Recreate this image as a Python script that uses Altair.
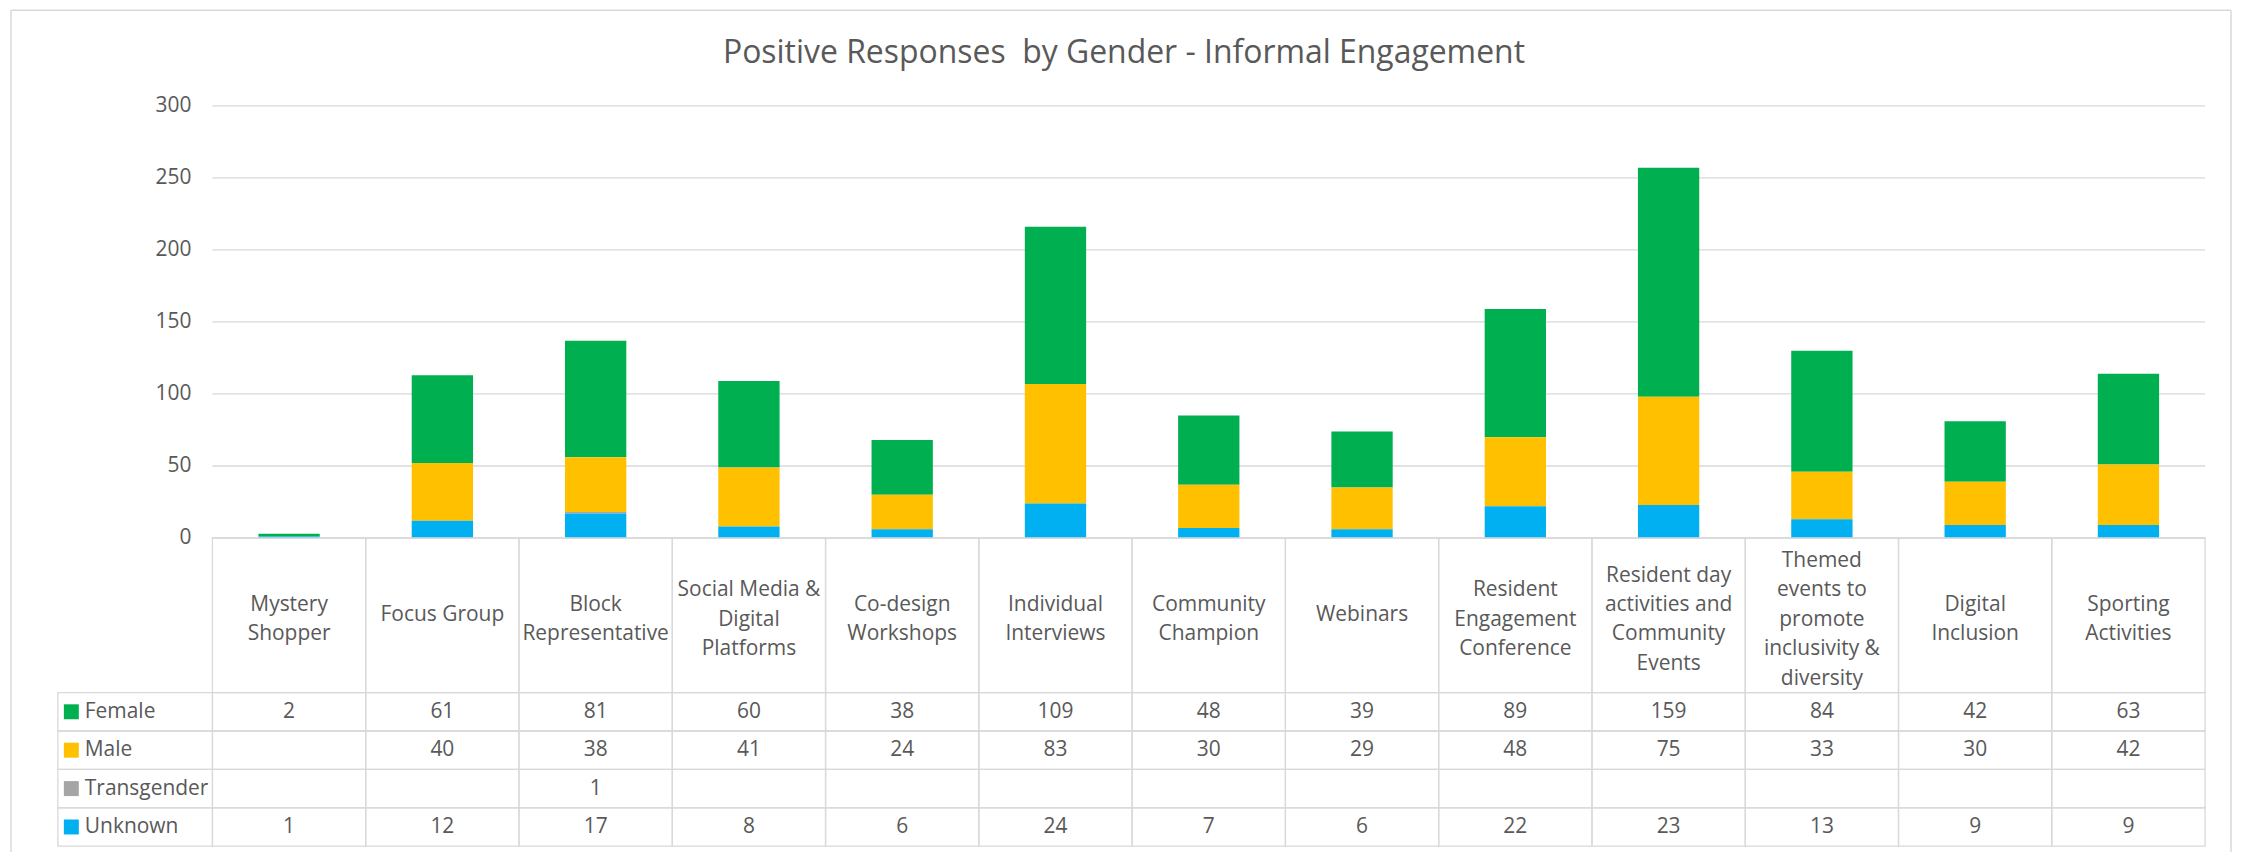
import altair as alt
import pandas as pd

# ---------------- data ----------------
categories = [
    "Mystery Shopper", "Focus Group", "Block Representative",
    "Social Media & Digital Platforms", "Co-design Workshops",
    "Individual Interviews", "Community Champion", "Webinars",
    "Resident Engagement Conference",
    "Resident day activities and Community Events",
    "Themed events to promote inclusivity & diversity",
    "Digital Inclusion", "Sporting Activities",
]
header_labels = [
    "Mystery\nShopper", "Focus Group", "Block\nRepresentative",
    "Social Media &\nDigital\nPlatforms", "Co-design\nWorkshops",
    "Individual\nInterviews", "Community\nChampion", "Webinars",
    "Resident\nEngagement\nConference",
    "Resident day\nactivities and\nCommunity\nEvents",
    "Themed\nevents to\npromote\ninclusivity &\ndiversity",
    "Digital\nInclusion", "Sporting\nActivities",
]
female = [2, 61, 81, 60, 38, 109, 48, 39, 89, 159, 84, 42, 63]
male = [None, 40, 38, 41, 24, 83, 30, 29, 48, 75, 33, 30, 42]
transgender = [None, None, 1, None, None, None, None, None, None, None, None, None, None]
unknown = [1, 12, 17, 8, 6, 24, 7, 6, 22, 23, 13, 9, 9]
series_names = ["Female", "Male", "Transgender", "Unknown"]
series_colors = ["#00B050", "#FFC000", "#A5A5A5", "#00B0F0"]
stack_rank = [3, 2, 1, 0]          # Unknown at the bottom, Female on top
y_ticks = [0, 50, 100, 150, 200, 250, 300]
title_text = "Positive Responses \u00a0by Gender - Informal Engagement"

# ---------------- layout constants ----------------
PLOT_W = 1998
PXU = 433.3 / 300.0                 # pixels per value unit
HEADER_PX = 155.0
ROW_PX = 38.5
LINE_H = 29.5
MULTI_FIX = 4.5                     # multi-line text sits a little high in Vega
PLOT_H = 742
YMIN = 300.0 - PLOT_H / PXU
TEXT = "#595959"
LINE = "#D9D9D9"
FONT = "Open Sans"
FS = 21

series_values = [female, male, transgender, unknown]

# bars
bar_rows = []
for s, vals, rk in zip(series_names, series_values, stack_rank):
    for c, v in zip(categories, vals):
        if v is not None:
            bar_rows.append({"category": c, "series": s, "value": v, "stack_idx": rk})
bar_df = pd.DataFrame(bar_rows)

# table cells
cell_rows = []
header_rows = []
for c, lab in zip(categories, header_labels):
    n_lines = lab.count("\n") + 1
    shift = (n_lines - 1) * LINE_H / 2 - (MULTI_FIX if n_lines > 1 else 0)
    cell_rows.append({"category": c, "y_top": 0.0, "y_bot": -HEADER_PX / PXU})
    header_rows.append({
        "category": c, "label": lab,
        "y_mid": (-HEADER_PX / 2 + shift) / PXU,
    })
value_rows = []
legend_rows = []
for r, (s, vals) in enumerate(zip(series_names, series_values)):
    top = -(HEADER_PX + r * ROW_PX) / PXU
    bot = -(HEADER_PX + (r + 1) * ROW_PX) / PXU
    mid = (top + bot) / 2
    legend_rows.append({"series": s, "y_top": top, "y_bot": bot, "y_mid": mid})
    for c, v in zip(categories, vals):
        cell_rows.append({"category": c, "y_top": top, "y_bot": bot})
        if v is not None:
            value_rows.append({"category": c, "text": str(v), "y_mid": mid})
cell_df = pd.DataFrame(cell_rows)
header_df = pd.DataFrame(header_rows)
value_df = pd.DataFrame(value_rows)
legend_df = pd.DataFrame(legend_rows)
tick_df = pd.DataFrame({"tick": y_ticks, "label": [str(t) for t in y_ticks]})

yscale = alt.Scale(domain=[YMIN, 300], nice=False, zero=False)
band_bars = alt.Scale(domain=categories, paddingInner=0.6, paddingOuter=0.3)
band_cells = alt.Scale(domain=categories, paddingInner=0, paddingOuter=0)
color_scale = alt.Scale(domain=series_names, range=series_colors)

grid = alt.Chart(tick_df).mark_rule(color=LINE, strokeWidth=1.3).encode(
    x=alt.value(0), x2=alt.value(PLOT_W),
    y=alt.Y("tick:Q", scale=yscale, axis=None),
)
tick_labels = alt.Chart(tick_df).mark_text(
    font=FONT, fontSize=FS, color=TEXT, baseline="middle", align="right",
).encode(
    x=alt.value(-21),
    y=alt.Y("tick:Q", scale=yscale, axis=None),
    text="label:N",
)

bars = alt.Chart(bar_df).mark_bar().encode(
    x=alt.X("category:N", scale=band_bars, axis=None),
    y=alt.Y("value:Q", stack="zero", scale=yscale, axis=None),
    color=alt.Color("series:N", scale=color_scale, legend=None),
    order=alt.Order("stack_idx:Q", sort="ascending"),
)

cells = alt.Chart(cell_df).mark_rect(fillOpacity=0, stroke=LINE, strokeWidth=1.3).encode(
    x=alt.X("category:N", scale=band_cells, axis=None),
    y=alt.Y("y_top:Q", scale=yscale, axis=None),
    y2="y_bot:Q",
)

legend_cells = alt.Chart(legend_df).mark_rect(fillOpacity=0, stroke=LINE, strokeWidth=1.3).encode(
    x=alt.value(-155), x2=alt.value(0),
    y=alt.Y("y_top:Q", scale=yscale, axis=None),
    y2="y_bot:Q",
)

header_text = alt.Chart(header_df).mark_text(
    font=FONT, fontSize=FS, color=TEXT, lineBreak="\n", lineHeight=LINE_H,
    baseline="middle", align="center",
).encode(
    x=alt.X("category:N", scale=band_cells, axis=None),
    y=alt.Y("y_mid:Q", scale=yscale, axis=None),
    text="label:N",
)

values_text = alt.Chart(value_df).mark_text(
    font=FONT, fontSize=FS, color=TEXT, baseline="middle", align="center",
).encode(
    x=alt.X("category:N", scale=band_cells, axis=None),
    y=alt.Y("y_mid:Q", scale=yscale, axis=None),
    text="text:N",
)

swatches = alt.Chart(legend_df).mark_square(size=225, opacity=1).encode(
    x=alt.value(-141.5),
    y=alt.Y("y_mid:Q", scale=yscale, axis=None),
    color=alt.Color("series:N", scale=color_scale, legend=None),
)

legend_labels = alt.Chart(legend_df).mark_text(
    font=FONT, fontSize=FS, color=TEXT, baseline="middle", align="left",
).encode(
    x=alt.value(-128),
    y=alt.Y("y_mid:Q", scale=yscale, axis=None),
    text="series:N",
)

title = alt.Chart(pd.DataFrame({"t": [title_text]})).mark_text(
    font=FONT, fontSize=32, color=TEXT, baseline="alphabetic", align="center",
).encode(x=alt.value(914), y=alt.value(-43), text="t:N")

one = pd.DataFrame({"a": [0]})
border_left = alt.Chart(one).mark_rule(color=LINE, strokeWidth=1.5).encode(
    x=alt.value(-202), y=alt.value(-96), y2=alt.value(PLOT_H + 10))
border_right = alt.Chart(one).mark_rule(color=LINE, strokeWidth=1.5).encode(
    x=alt.value(2024), y=alt.value(-96), y2=alt.value(PLOT_H + 10))
border_top = alt.Chart(one).mark_rule(color=LINE, strokeWidth=1.5).encode(
    x=alt.value(-202), x2=alt.value(2024), y=alt.value(-96))

chart = alt.layer(
    grid, tick_labels, bars, cells, legend_cells, header_text, values_text,
    swatches, legend_labels, title, border_left, border_right, border_top,
).resolve_scale(x="independent").properties(
    width=PLOT_W, height=PLOT_H,
    autosize=alt.AutoSizeParams(type="none"),
    padding={"left": 205, "top": 97, "right": 31, "bottom": 5},
    background="white",
).configure_view(stroke=None)

chart.save("out.html", embed_options={"renderer": "svg", "actions": False})
